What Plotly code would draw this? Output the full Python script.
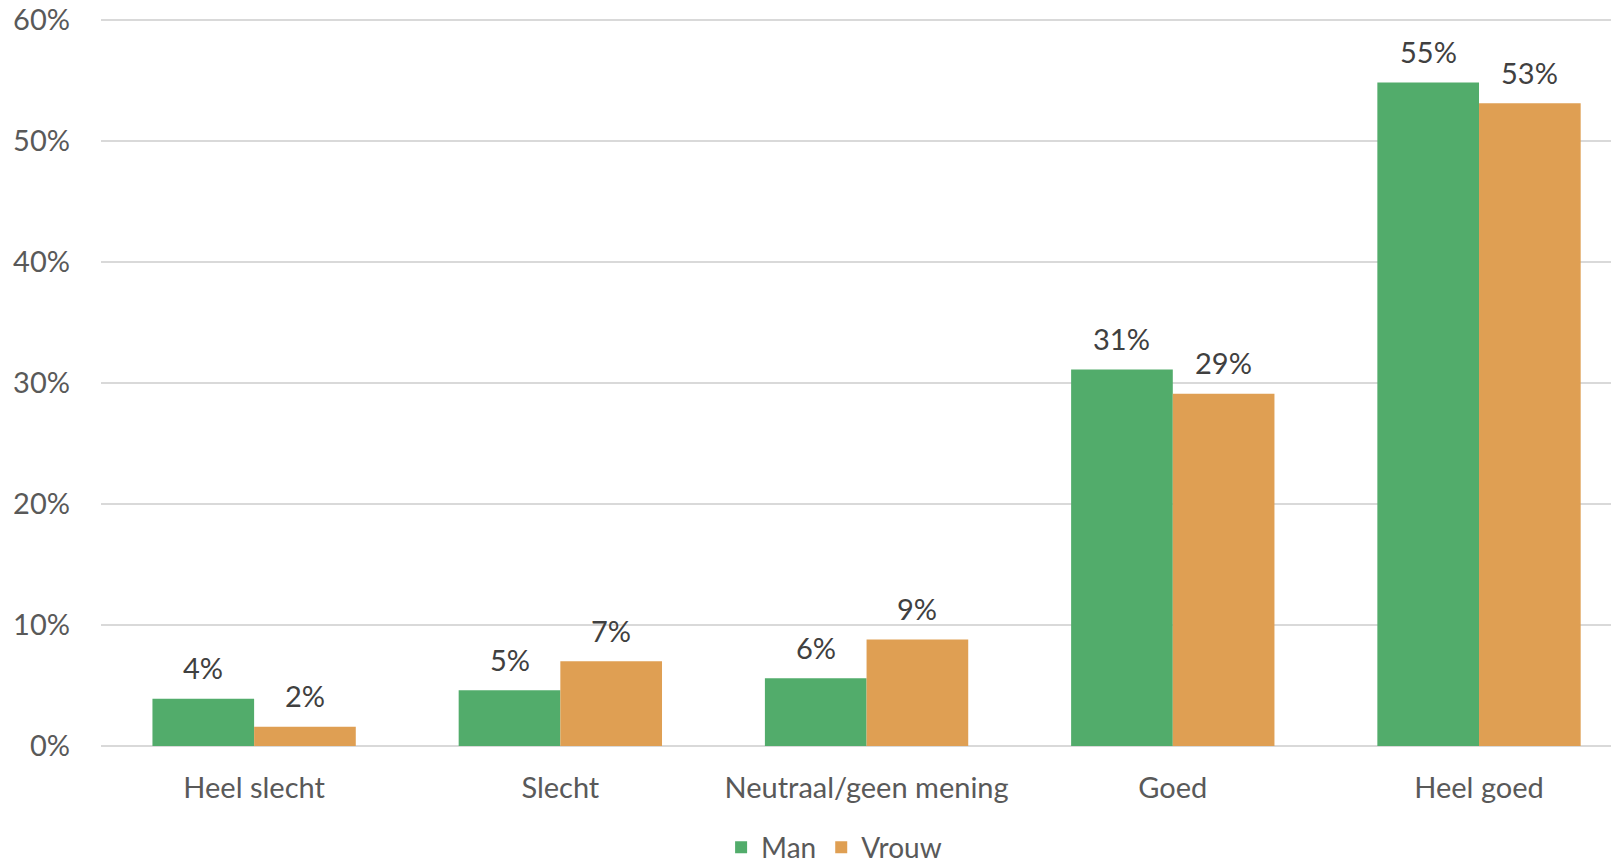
import plotly.graph_objects as go

categories = ["Heel slecht", "Slecht", "Neutraal/geen mening", "Goed", "Heel goed"]
man = [0.039, 0.046, 0.056, 0.311, 0.548]
vrouw = [0.016, 0.070, 0.088, 0.291, 0.531]
y_ticks = [0, 0.1, 0.2, 0.3, 0.4, 0.5, 0.6]
y_tick_labels = ["0%", "10%", "20%", "30%", "40%", "50%", "60%"]

FONT = "Lato, Open Sans, sans-serif"
FS = 29
GREEN = "#52AC6B"
ORANGE = "#DF9F53"

W, H = 1611, 865
ML, MT, MB, MR = 101, 16, 119, 0

fig = go.Figure()
fig.add_bar(x=categories, y=man, name="Man", marker=dict(color=GREEN, line=dict(width=0)))
fig.add_bar(x=categories, y=vrouw, name="Vrouw", marker=dict(color=ORANGE, line=dict(width=0)))

# data labels placed above bars (Excel-like gap)
plot_w = W - ML - MR
x_range = [-0.5, 4.431]
px_per_cat = plot_w / (x_range[1] - x_range[0])
bargap = 0.336
bar_px = (1 - bargap) / 2 * px_per_cat
for series, sign in ((man, -1), (vrouw, 1)):
    for c, v in zip(categories, series):
        fig.add_annotation(x=c, y=v, text=f"{v:.0%}", showarrow=False,
                           xshift=sign * bar_px / 2, yshift=31,
                           font=dict(size=FS, color="#404040", family=FONT))

fig.update_layout(
    width=W, height=H,
    barmode="group", bargap=bargap, bargroupgap=0,
    plot_bgcolor="white", paper_bgcolor="white",
    margin=dict(l=ML, r=MR, t=MT, b=MB, autoexpand=False),
    font=dict(family=FONT, size=FS, color="#595959"),
    xaxis=dict(range=x_range, showgrid=False, ticks="", ticklabelstandoff=22,
               tickfont=dict(size=FS, color="#595959"), showline=False, automargin=False),
    yaxis=dict(range=[0, 0.603], tickvals=y_ticks, ticktext=y_tick_labels,
               gridcolor="#D9D9D9", gridwidth=1.5, zeroline=True, zerolinecolor="#D9D9D9",
               zerolinewidth=1.5, ticklabelstandoff=30, automargin=False,
               ticklabeloverflow="allow", tickfont=dict(size=FS, color="#595959")),
    legend=dict(orientation="h", x=0.4855, xanchor="center", y=-0.139, yanchor="middle",
                font=dict(size=28, color="#595959"), traceorder="normal", itemwidth=30),
    showlegend=True,
)

fig.write_html("out.html", config={"displayModeBar": False},
               post_script="document.body.style.margin='0';")
